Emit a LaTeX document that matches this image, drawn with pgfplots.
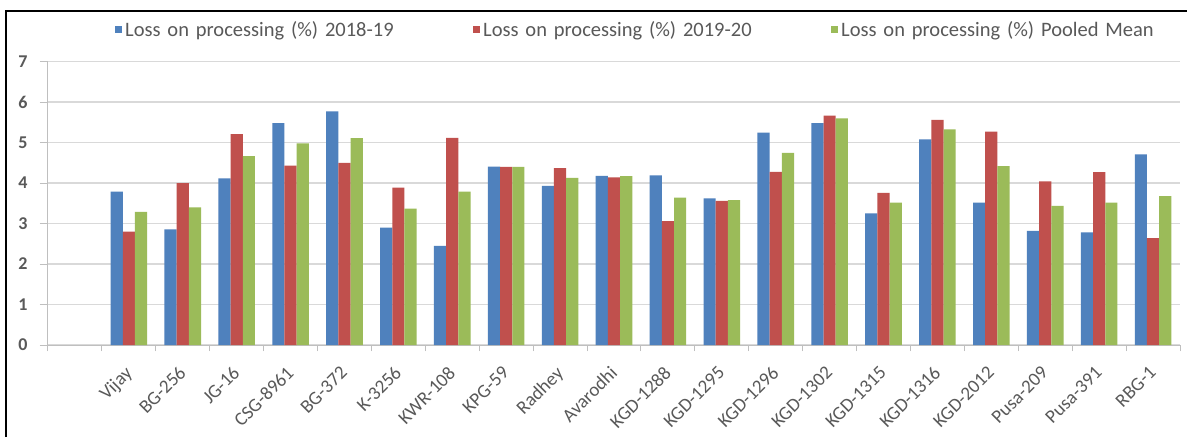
\documentclass[border=0pt]{standalone}
\usepackage{fontspec}
\setmainfont{Carlito}
\usepackage{pgfplots}
\pgfplotsset{compat=1.18}
\usepackage{pgfplotstable}

\definecolor{sBlue}{HTML}{4F81BD}
\definecolor{sRed}{HTML}{C0504D}
\definecolor{sGreen}{HTML}{9BBB59}
\definecolor{gridgrey}{HTML}{D9D9D9}
\definecolor{axisgrey}{HTML}{BFBFBF}
\definecolor{labelgrey}{HTML}{595959}

% Loss on processing (%) per variety: 2018-19, 2019-20 and pooled mean
\pgfplotstableread{
idx  y1819  y1920  pooled
1    3.79   2.80   3.29
2    2.86   4.00   3.40
3    4.12   5.21   4.67
4    5.48   4.43   4.98
5    5.77   4.50   5.11
6    2.90   3.89   3.37
7    2.45   5.12   3.79
8    4.41   4.40   4.40
9    3.93   4.37   4.13
10   4.18   4.14   4.17
11   4.19   3.06   3.64
12   3.62   3.56   3.58
13   5.25   4.28   4.75
14   5.48   5.67   5.60
15   3.25   3.76   3.52
16   5.08   5.56   5.33
17   3.52   5.27   4.42
18   2.82   4.04   3.44
19   2.78   4.27   3.52
20   4.71   2.64   3.68
}\losstable

\begin{document}
\begin{tikzpicture}[x=1pt,y=1pt]
\useasboundingbox (0,0) rectangle (1187,437);
\fill[white] (0,0) rectangle (1187,437);
\draw[black, line width=1.3pt] (6,0) -- (6,426) -- (1187,426);
\begin{axis}[
  at={(48pt,92pt)}, anchor=south west,
  scale only axis, width=1132pt, height=283.3pt,
  xmin=-0.5, xmax=20.5, ymin=0, ymax=7,
  ybar=0pt, bar width=12.2pt,
  ytick={0,...,7},
  xtick={1,...,20},
  xticklabels={Vijay,BG-256,JG-16,CSG-8961,BG-372,K-3256,KWR-108,KPG-59,Radhey,Avarodhi,KGD-1288,KGD-1295,KGD-1296,KGD-1302,KGD-1315,KGD-1316,KGD-2012,Pusa-209,Pusa-391,RBG-1},
  minor xtick={-0.5,0.5,...,20.5},
  major x tick style={draw=none},
  minor x tick style={draw=axisgrey, line width=1pt},
  minor tick length=6pt,
  major tick length=8pt,
  ytick style={draw=axisgrey, line width=1pt},
  tick align=outside,
  ymajorgrids,
  grid style={draw=gridgrey, line width=1.4pt},
  axis x line*=bottom, axis y line*=left,
  axis line style={-, draw=axisgrey, line width=1pt},
  /pgf/number format/assume math mode=true,
  yticklabel style={font=\fontsize{18}{18}\selectfont\bfseries, text=labelgrey, anchor=east, xshift=-9pt},
  xticklabel style={font=\fontsize{19}{19}\selectfont, text=labelgrey, rotate=45, anchor=north east, inner sep=1pt, xshift=-11pt, yshift=-4pt},
  legend columns=3,
  legend style={draw=none, fill=none, inner sep=0pt, anchor=west,
    at={(axis description cs:0.0592,1.112)},
    font=\fontsize{20.5}{20.5}\selectfont, text=labelgrey,
    nodes={text width=345pt, align=left, inner sep=3pt}},
  legend image code/.code={\fill[#1] (0pt,-3.5pt) rectangle (7pt,3.5pt);},
]
\addplot[fill=sBlue, draw=none] table[x=idx, y=y1819] {\losstable};
\addplot[fill=sRed, draw=none] table[x=idx, y=y1920] {\losstable};
\addplot[fill=sGreen, draw=none] table[x=idx, y=pooled] {\losstable};
\legend{Loss on processing (\%) 2018-19, Loss on processing (\%) 2019-20, Loss on processing (\%) Pooled Mean}
\end{axis}
\end{tikzpicture}
\end{document}
